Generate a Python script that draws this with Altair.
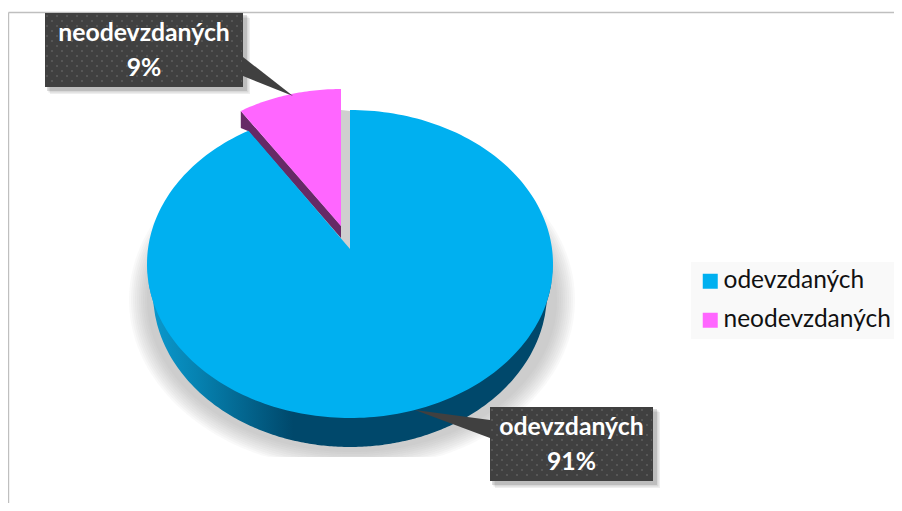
import math
import altair as alt
import pandas as pd

categories = ["odevzdaných", "neodevzdaných"]
shares = [91, 9]
share_labels = ["91%", "9%"]
colors = ["#00B0F0", "#FF66FF"]

X = alt.X("x:Q", scale=alt.Scale(domain=[8, 894]), axis=None)
Y = alt.Y("y:Q", scale=alt.Scale(domain=[503, 8]), axis=None)
Y2 = alt.Y2("y2:Q")

CX, CY, RX, RY = 350, 264, 203, 154
APEX = (350, 249)
P_CX, P_CY, P_RX, P_RY = 341, 230, 187, 141
P_APEX = (341, 226)
split = 360 * shares[0] / 100
persp = 2.4  # tilt of the 3-D view moves the main slice's edge a little


def poly(points, extra=None):
    rows = [{"x": a, "y": b, "i": i} for i, (a, b) in enumerate(points)]
    if extra:
        for r in rows:
            r.update(extra)
    return pd.DataFrame(rows)


def shape(points, color, opacity=1.0):
    return alt.Chart(poly(points)).mark_line(
        interpolate="linear-closed", fill=color, strokeWidth=0, fillOpacity=opacity
    ).encode(x=X, y=Y, order="i:Q")


def ellipse_points(cx, cy, rx, ry, clip):
    pts = []
    n = 180
    for k in range(n):
        t = 2 * math.pi * k / n
        pts.append((cx + rx * math.sin(t), min(cy - ry * math.cos(t), clip)))
    return pts


layers = []

# chart frame
frame = pd.DataFrame([{"x": 8.5, "y": 12.5, "x2": 894, "y2": 12.5}, {"x": 8.5, "y": 12.5, "x2": 8.5, "y2": 503}])
layers.append(alt.Chart(frame).mark_rule(color="#bfbfbf", strokeWidth=1.4).encode(x=X, y=Y, x2="x2:Q", y2=Y2))

# soft shadow under the pie
for grow in range(20, 0, -2):
    layers.append(shape(ellipse_points(352, 300, 203 + grow, 150 + grow, 457), "#8c8c8c", 0.055))

# side wall
upper, lower = [], []
n = 200
for k in range(n + 1):
    u = -1 + 2 * k / n
    x = CX + RX * u
    top = CY + RY * math.sqrt(1 - u * u)
    v = (x - 350) / 197
    bottom = 293 + 154 * math.sqrt(max(0, 1 - v * v)) if abs(v) <= 1 else top
    upper.append((x, top - 3))
    lower.append((x, max(bottom, top)))
layers.append(
    alt.Chart(poly(upper + lower[::-1]))
    .mark_line(
        interpolate="linear-closed",
        strokeWidth=0,
        fill=alt.Gradient(
            gradient="linear",
            x1=0, x2=1, y1=0, y2=0,
            stops=[
                alt.GradientStop(offset=0, color="#0b9bd0"),
                alt.GradientStop(offset=0.12, color="#0683b2"),
                alt.GradientStop(offset=0.36, color="#00486b"),
                alt.GradientStop(offset=1, color="#00486b"),
            ],
        ),
    )
    .encode(x=X, y=Y, order="i:Q")
)

# grey gap shadow next to the exploded slice
layers.append(shape([(341, 110), (350, 111), (350, 249), (341, 238)], "#cfcfcf"))

# exploded slice side wall
p_t = math.radians(split)
p_left = (P_CX + P_RX * math.sin(p_t), P_CY - P_RY * math.cos(p_t))
layers.append(
    shape([p_left, P_APEX, (341, 238), (248, 131), (p_left[0], p_left[1] + 17)], "#662a66")
)

# slices, with the angle taken from the shares
main_pts = [APEX]
for k in range(241):
    t = math.radians((split + persp) * k / 240)
    main_pts.append((CX + RX * math.sin(t), CY - RY * math.cos(t)))
pink_pts = [P_APEX]
for k in range(41):
    t = math.radians(split + (360 - split) * k / 40)
    pink_pts.append((P_CX + P_RX * math.sin(t), P_CY - P_RY * math.cos(t)))

slices = pd.concat(
    [poly(main_pts, {"kategorie": categories[0], "podil": shares[0]}),
     poly(pink_pts, {"kategorie": categories[1], "podil": shares[1]})]
)
layers.append(
    alt.Chart(slices)
    .mark_line(interpolate="linear-closed", strokeWidth=0)
    .encode(
        x=X, y=Y, order="i:Q",
        detail="kategorie:N",
        fill=alt.Fill(
            "kategorie:N",
            scale=alt.Scale(domain=categories, range=colors),
            sort=None,
            legend=alt.Legend(
                title=None,
                orient="none",
                legendX=683,
                legendY=254,
                symbolType="square",
                symbolSize=225,
                symbolStrokeWidth=0,
                labelFont="Lato",
                labelFontSize=24.5,
                labelColor="#111111",
                labelLimit=260,
                labelOffset=1,
                fillColor="#f9f9f9",
                padding=7,
                rowPadding=14,
                columnPadding=0,
                symbolOffset=0,
            ),
        ),
    )
)


def callout(x0, y0, x1, y1, pointer, label, pct):
    out = []
    for off, op in [(7, 0.10), (5.5, 0.14), (4, 0.2)]:
        out.append(
            alt.Chart(pd.DataFrame([{"x": x0 + off - 2, "y": y0 + off - 2, "x2": x1 + off, "y2": y1 + off}]))
            .mark_rect(color="#555555", opacity=op)
            .encode(x=X, y=Y, x2="x2:Q", y2=Y2)
        )
    out.append(shape(pointer, "#404040"))
    out.append(
        alt.Chart(pd.DataFrame([{"x": x0, "y": y0, "x2": x1, "y2": y1}]))
        .mark_rect(color="#404040")
        .encode(x=X, y=Y, x2="x2:Q", y2=Y2)
    )
    for row, yy in enumerate(range(int(y0) + 3, int(y1) - 1, 5)):
        out.append(
            alt.Chart(pd.DataFrame([{"x": x0 + 1, "y": yy, "x2": x1 - 1, "y2": yy}]))
            .mark_rule(color="#5e5e5e", strokeWidth=1.5, strokeDash=[2, 8], strokeDashOffset=5 * (row % 2))
            .encode(x=X, y=Y, x2="x2:Q", y2=Y2)
        )
    cx = (x0 + x1) / 2
    txt = pd.DataFrame([{"x": cx, "y": y0 + 21, "t": label}, {"x": cx, "y": y0 + 56, "t": pct}])
    out.append(
        alt.Chart(txt)
        .mark_text(font="Lato", fontWeight="bold", fontSize=24.8, color="white", align="center", baseline="middle")
        .encode(x=X, y=Y, text="t:N")
    )
    return out


layers += callout(45, 13, 243, 87, [(243, 57), (243, 76), (293, 96)], categories[1], share_labels[1])
layers += callout(490, 407, 653, 481, [(490, 420), (490, 438), (415, 410)], categories[0], share_labels[0])

chart = (
    alt.layer(*layers)
    .resolve_scale(x="shared", y="shared")
    .properties(width=886, height=495, padding=0, autosize=alt.AutoSizeParams(type="none"), background="white")
    .configure_view(stroke=None)
)

chart.save("out.html", embed_options={"renderer": "svg", "actions": False})
